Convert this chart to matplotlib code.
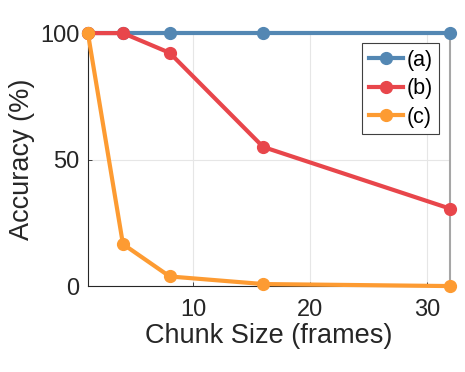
import matplotlib
matplotlib.use("Agg")
import matplotlib.pyplot as plt

plt.rcParams['font.family'] = ['Liberation Sans', 'DejaVu Sans']

chunk = [1, 4, 8, 16, 32]
acc_a = [100, 100, 100, 100, 100]
acc_b = [100, 100, 92.2, 55, 30.6]
acc_c = [100, 16.6, 3.8, 0.8, 0]
labels = ['(a)', '(b)', '(c)']
colors = ['#5387B3', '#E8464B', '#FD9B32']

fig = plt.figure(figsize=(4.65, 3.72), dpi=100)
ax = fig.add_axes([0.189, 0.231, 0.779, 0.68])

for ys, lab, c in zip([acc_a, acc_b, acc_c], labels, colors):
    ax.plot(chunk, ys, '-o', color=c, lw=3, ms=8.5, label=lab, clip_on=False, zorder=3)

ax.set_xlim(1, 32)
ax.set_ylim(0, 100)
ax.set_xticks([10, 20, 30])
ax.set_yticks([0, 50, 100])
ax.grid(True, color='#E6E6E6', lw=0.8)
ax.set_axisbelow(True)
ax.tick_params(direction='in', labelsize=17, colors='#262626', length=3, width=0.6)
ax.tick_params(axis='x', pad=9)
ax.tick_params(axis='y', pad=6)
for s in ['left', 'bottom']:
    ax.spines[s].set_color('#262626')
    ax.spines[s].set_linewidth(0.8)
ax.spines['right'].set_color('#A6A6A6')
ax.spines['right'].set_linewidth(1.5)
ax.spines['top'].set_visible(False)

ax.set_xlabel('Chunk Size (frames)', fontsize=19.5, color='#262626', labelpad=2)
ax.set_ylabel('Accuracy (%)', fontsize=19.5, color='#262626', labelpad=4)

leg = ax.legend(loc='upper right', bbox_to_anchor=(0.97, 0.96), fontsize=15.5,
                fancybox=False, framealpha=1, edgecolor='#404040',
                handlelength=1.6, handletextpad=0.15, borderpad=0.3,
                labelspacing=0.35, borderaxespad=0)
leg.get_frame().set_linewidth(0.8)

fig.savefig('out.png', dpi=100)
